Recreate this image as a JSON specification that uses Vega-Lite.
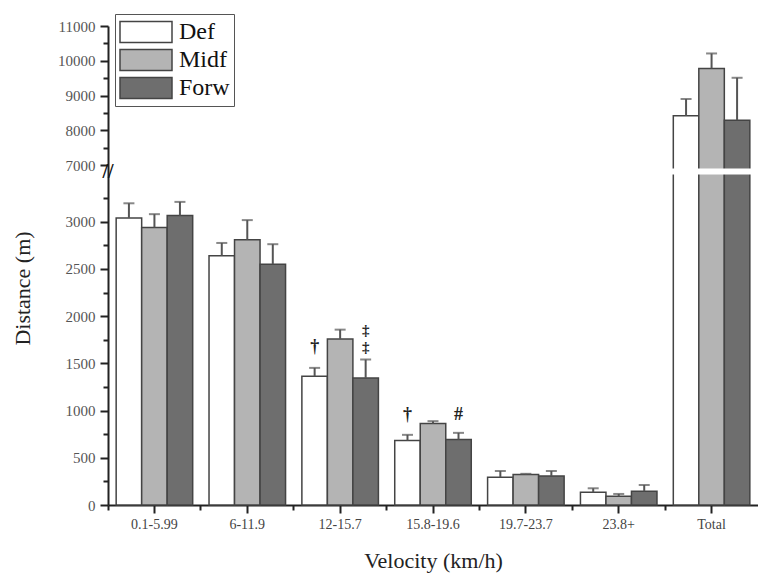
{
  "$schema": "https://vega.github.io/schema/vega-lite/v6.json",
  "width": 650,
  "height": 479,
  "autosize": {"type": "none"},
  "padding": {"left": 108, "top": 26, "right": 0, "bottom": 74},
  "background": "white",
  "config": {
    "view": {"stroke": null},
    "font": "Times New Roman, Liberation Serif, DejaVu Serif, serif",
    "axis": {"labelFont": "Times New Roman, Liberation Serif, DejaVu Serif, serif", "titleFont": "Times New Roman, Liberation Serif, DejaVu Serif, serif"},
    "legend": {"labelFont": "Times New Roman, Liberation Serif, DejaVu Serif, serif", "titleFont": "Times New Roman, Liberation Serif, DejaVu Serif, serif"},
    "text": {"font": "Times New Roman, Liberation Serif, DejaVu Serif, serif"}
  },
  "datasets": {
    "bars": [
      {"group": "0.1-5.99", "pos": "Def", "value": 3040, "hi": 3195},
      {"group": "0.1-5.99", "pos": "Midf", "value": 2940, "hi": 3080},
      {"group": "0.1-5.99", "pos": "Forw", "value": 3065, "hi": 3210},
      {"group": "6-11.9", "pos": "Def", "value": 2640, "hi": 2775},
      {"group": "6-11.9", "pos": "Midf", "value": 2808, "hi": 3017},
      {"group": "6-11.9", "pos": "Forw", "value": 2550, "hi": 2762},
      {"group": "12-15.7", "pos": "Def", "value": 1363, "hi": 1452},
      {"group": "12-15.7", "pos": "Midf", "value": 1759, "hi": 1857},
      {"group": "12-15.7", "pos": "Forw", "value": 1346, "hi": 1540},
      {"group": "15.8-19.6", "pos": "Def", "value": 683, "hi": 743},
      {"group": "15.8-19.6", "pos": "Midf", "value": 862, "hi": 888},
      {"group": "15.8-19.6", "pos": "Forw", "value": 693, "hi": 764},
      {"group": "19.7-23.7", "pos": "Def", "value": 293, "hi": 360},
      {"group": "19.7-23.7", "pos": "Midf", "value": 322, "hi": 330},
      {"group": "19.7-23.7", "pos": "Forw", "value": 307, "hi": 360},
      {"group": "23.8+", "pos": "Def", "value": 134, "hi": 177},
      {"group": "23.8+", "pos": "Midf", "value": 92, "hi": 117},
      {"group": "23.8+", "pos": "Forw", "value": 145, "hi": 212},
      {"group": "Total", "pos": "Def", "value": 8420, "hi": 8900},
      {"group": "Total", "pos": "Midf", "value": 9780, "hi": 10210},
      {"group": "Total", "pos": "Forw", "value": 8290, "hi": 9510}
    ],
    "gap": [{"group": "Total", "lo": 3500, "hi": 6900}],
    "notes": [
      {"group": "12-15.7", "pos": "Def", "y": 1676, "label": "†"},
      {"group": "15.8-19.6", "pos": "Def", "y": 958, "label": "†"},
      {"group": "15.8-19.6", "pos": "Forw", "y": 958, "label": "#"}
    ],
    "dd": [
      {"group": "12-15.7", "pos": "Forw", "y": 1852, "label": "‡"},
      {"group": "12-15.7", "pos": "Forw", "y": 1672, "label": "‡"}
    ],
    "brk": [{"group": "0.1-5.99", "y": 5200, "label": "//"}]
  },
  "layer": [
    {
      "data": {"name": "bars"},
      "mark": {"type": "bar", "stroke": "#444", "strokeWidth": 1.5},
      "encoding": {
        "x": {
          "field": "group", "type": "nominal",
          "scale": {"domain": ["0.1-5.99", "6-11.9", "12-15.7", "15.8-19.6", "19.7-23.7", "23.8+", "Total"], "paddingInner": 0, "paddingOuter": 0},
          "axis": {
            "title": "Velocity (km/h)", "bandPosition": 0.5, "labelAngle": 0, "labelFontSize": 14, "labelColor": "#444",
            "labelPadding": 4, "tickSize": 8, "tickWidth": 2, "tickColor": "#222", "domainColor": "#222", "domainWidth": 2,
            "titleFontSize": 22, "titleFontWeight": "normal", "titleColor": "#222", "titlePadding": 19, "grid": false, "orient": "bottom"
          }
        },
        "xOffset": {"field": "pos", "type": "nominal", "scale": {"domain": ["Def", "Midf", "Forw"], "paddingInner": 0, "paddingOuter": 0.32}},
        "y": {
          "field": "value", "type": "quantitative",
          "scale": {"domain": [0, 3500, 6900, 11000], "range": [479, 148.5, 142.5, 0], "zero": false, "nice": false},
          "axis": {
            "title": "Distance (m)", "values": [0, 500, 1000, 1500, 2000, 2500, 3000, 7000, 8000, 9000, 10000, 11000],
            "format": "d", "labelFontSize": 15, "labelColor": "#555", "labelPadding": 5, "tickSize": 8, "tickWidth": 2,
            "tickColor": "#222", "domainColor": "#222", "domainWidth": 2, "grid": false, "orient": "left",
            "titleFontSize": 22, "titleFontWeight": "normal", "titleColor": "#222", "titleX": -86, "titleY": 262,
            "titleAngle": -90, "titleAlign": "center", "titleBaseline": "middle"
          }
        },
        "fill": {
          "field": "pos", "type": "nominal",
          "scale": {"domain": ["Def", "Midf", "Forw"], "range": ["#ffffff", "#b4b4b4", "#6e6e6e"]},
          "legend": {
            "orient": "none", "legendX": 7, "legendY": -12, "title": null, "direction": "vertical",
            "symbolType": "M-2,-0.8H2V0.8H-2Z", "symbolSize": 676, "symbolOffset": 13, "symbolStrokeColor": "#444", "symbolStrokeWidth": 1.5,
            "symbolOpacity": 1, "labelFontSize": 24, "labelColor": "#111", "labelOffset": 19,
            "strokeColor": "#555", "fillColor": "white", "padding": 4, "rowPadding": 0
          }
        }
      }
    },
    {
      "data": {"name": "gap"},
      "mark": {"type": "rect", "fill": "white"},
      "encoding": {
        "x": {"field": "group", "type": "nominal", "axis": null},
        "y": {"field": "lo", "type": "quantitative", "axis": null},
        "y2": {"field": "hi"}
      }
    },
    {
      "data": {"name": "bars"},
      "mark": {"type": "rule", "stroke": "#555", "strokeWidth": 2},
      "encoding": {
        "x": {"field": "group", "type": "nominal", "axis": {"bandPosition": 0, "labels": false, "title": null, "tickSize": 5, "tickWidth": 2, "tickColor": "#222", "domain": false, "grid": false, "orient": "bottom"}},
        "xOffset": {"field": "pos", "type": "nominal"},
        "y": {"field": "value", "type": "quantitative", "axis": {"values": [250, 750, 1250, 1750, 2250, 2750, 3250, 7500, 8500, 9500, 10500], "labels": false, "title": null, "tickSize": 5, "tickWidth": 2, "tickColor": "#222", "domain": false, "grid": false, "orient": "left"}},
        "y2": {"field": "hi"}
      }
    },
    {
      "data": {"name": "bars"},
      "mark": {"type": "tick", "color": "#555", "thickness": 2, "size": 11},
      "encoding": {
        "x": {"field": "group", "type": "nominal", "axis": null},
        "xOffset": {"field": "pos", "type": "nominal"},
        "y": {"field": "hi", "type": "quantitative", "axis": null}
      }
    },
    {
      "data": {"name": "notes"},
      "mark": {"type": "text", "fontSize": 18, "color": "#222", "baseline": "middle", "fontWeight": "bold"},
      "encoding": {
        "x": {"field": "group", "type": "nominal", "axis": null},
        "xOffset": {"field": "pos", "type": "nominal"},
        "y": {"field": "y", "type": "quantitative", "axis": null},
        "text": {"field": "label"}
      }
    },
    {
      "data": {"name": "dd"},
      "mark": {"type": "text", "fontSize": 15, "color": "#222", "baseline": "middle", "fontWeight": "bold"},
      "encoding": {
        "x": {"field": "group", "type": "nominal", "axis": null},
        "xOffset": {"field": "pos", "type": "nominal"},
        "y": {"field": "y", "type": "quantitative", "axis": null},
        "text": {"field": "label"}
      }
    },
    {
      "data": {"name": "brk"},
      "mark": {"type": "text", "fontSize": 20, "color": "#111", "baseline": "middle", "dx": -46.4, "fontWeight": "bold"},
      "encoding": {
        "x": {"field": "group", "type": "nominal", "axis": null},
        "y": {"field": "y", "type": "quantitative", "axis": null},
        "text": {"field": "label"}
      }
    }
  ],
  "resolve": {"axis": {"x": "independent", "y": "independent"}}
}
